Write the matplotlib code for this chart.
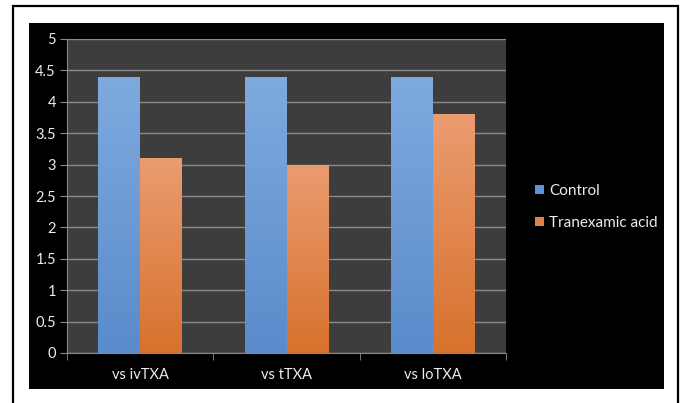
import matplotlib.pyplot as plt
import numpy as np
from matplotlib.colors import LinearSegmentedColormap
from matplotlib.patches import Rectangle, Patch

plt.rcParams['font.family'] = ['Lato', 'DejaVu Sans']

# Datos
categorias = ['vs ivTXA', 'vs tTXA', 'vs loTXA']
control = [4.4, 4.4, 4.4]
acido_tranexamico = [3.1, 3.0, 3.8]
series = ['Control', 'Tranexamic acid']
yticks = [0, 0.5, 1, 1.5, 2, 2.5, 3, 3.5, 4, 4.5, 5]

W, H = 682, 403
fig = plt.figure(figsize=(W / 100, H / 100), dpi=100)
fig.patch.set_facecolor('white')

# Marco exterior (sin borde inferior) y panel negro
fig.add_artist(Rectangle((13 / W, -0.05), (678 - 13) / W, 1 - 6 / H + 0.05,
                         transform=fig.transFigure, fill=False,
                         edgecolor='black', lw=1.6))
fig.add_artist(Rectangle((29 / W, 1 - 389 / H), (664 - 29) / W, (389 - 23) / H,
                         transform=fig.transFigure, facecolor='black',
                         edgecolor='none', zorder=0))

ax = fig.add_axes([67 / W, 1 - 353 / H, (506 - 67) / W, (353 - 39) / H])
ax.set_facecolor('#3d3d3d')

x = np.arange(len(categorias))
ancho = 0.286
azul = LinearSegmentedColormap.from_list('azul', ['#5a8bcb', '#7eaade'])
naranja = LinearSegmentedColormap.from_list('naranja', ['#d7712d', '#eb9c70'])

b1 = ax.bar(x - ancho / 2, control, ancho, color='none', zorder=3)
b2 = ax.bar(x + ancho / 2, acido_tranexamico, ancho, color='none', zorder=3)

# Relleno en degradado vertical para cada barra
grad = np.linspace(0, 1, 256).reshape(-1, 1)
for barras, cmap in [(b1, azul), (b2, naranja)]:
    for p in barras:
        x0, y0 = p.get_x(), p.get_y()
        w, h = p.get_width(), p.get_height()
        im = ax.imshow(grad, cmap=cmap, origin='lower', aspect='auto',
                       extent=[x0, x0 + w, y0, y0 + h], zorder=2)
        im.set_clip_path(p)

ax.set_xlim(-0.5, 2.5)
ax.set_ylim(0, 5)
ax.set_yticks(yticks)
ax.set_yticklabels(['0', '0.5', '1', '1.5', '2', '2.5', '3', '3.5', '4', '4.5', '5'])
ax.yaxis.grid(True, color='#8a8a8a', lw=1)
ax.set_axisbelow(True)

ax.set_xticks(x)
ax.set_xticklabels(categorias)
ax.set_xticks([-0.5, 0.5, 1.5, 2.5], minor=True)
ax.tick_params(axis='x', which='major', length=0, pad=11, colors='#ececec', labelsize=10.5)
ax.tick_params(axis='x', which='minor', length=5, color='#8a8a8a')
ax.tick_params(axis='y', length=5, colors='#ececec', labelsize=10.5, pad=3)
ax.tick_params(axis='y', color='#8a8a8a')

for lado in ['top', 'right']:
    ax.spines[lado].set_visible(False)
ax.spines['left'].set_color('#8a8a8a')
ax.spines['bottom'].set_color('#8a8a8a')

handles = [Patch(facecolor='#5b93d6'), Patch(facecolor='#e0834a')]
ax.legend(handles, series, loc='center left', bbox_to_anchor=(1.035, 0.465),
          frameon=False, labelcolor='#ececec', fontsize=11,
          handlelength=0.55, handleheight=0.55, handletextpad=0.35, labelspacing=1.15)

plt.savefig('out.png', dpi=100, facecolor='white')
